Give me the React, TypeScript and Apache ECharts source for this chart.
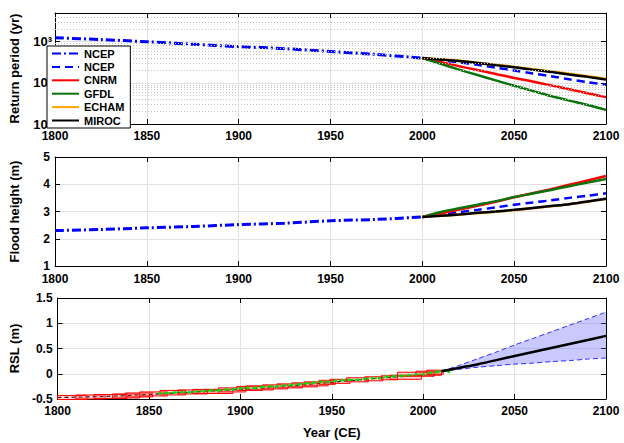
import { useEffect, useRef } from "react"
import * as echarts from "echarts"

const FONT = "'Liberation Sans', Arial, sans-serif"

// top & middle panels: historical NCEP reconstruction
const histYears = [1800, 1825, 1850, 1875, 1900, 1925, 1950, 1975, 2000]
const ncepHistReturn = [1250, 1130, 1000, 870, 760, 680, 580, 490, 400]
const ncepHistFlood = [2.3, 2.34, 2.4, 2.45, 2.52, 2.57, 2.66, 2.71, 2.8]

// future projections
const futYears = [2000, 2010, 2020, 2030, 2040, 2050, 2060, 2070, 2080, 2090, 2100]
const ncepReturn = [400, 355, 315, 275, 235, 200, 170, 145, 122, 104, 90]
const cnrmReturn = [400, 320, 255, 205, 165, 132, 108, 87, 70, 56, 45]
const gfdlReturn = [400, 290, 210, 155, 115, 85, 64, 48, 37, 29, 22]
const echamReturn = [400, 372, 343, 310, 276, 245, 216, 190, 166, 145, 126]
const mirocReturn = [400, 370, 340, 305, 270, 240, 210, 185, 160, 140, 120]

const ncepFlood = [2.8, 2.88, 2.97, 3.06, 3.15, 3.25, 3.33, 3.41, 3.5, 3.58, 3.67]
const cnrmFlood = [2.8, 2.93, 3.07, 3.21, 3.36, 3.52, 3.67, 3.82, 3.98, 4.14, 4.3]
const gfdlFlood = [2.8, 2.98, 3.12, 3.25, 3.38, 3.53, 3.66, 3.79, 3.93, 4.06, 4.19]
const echamFlood = [2.8, 2.84, 2.89, 2.94, 2.99, 3.05, 3.12, 3.19, 3.27, 3.36, 3.46]
const mirocFlood = [2.8, 2.84, 2.89, 2.95, 3.0, 3.06, 3.13, 3.2, 3.27, 3.37, 3.47]

// minor (dotted) grid lines of the log axis
const logMinorGrid = [20, 30, 40, 50, 60, 70, 80, 90, 200, 300, 400, 500, 600, 700, 800, 900, 2000, 3000, 4000]
const supDigits = ["\u2070", "\u00b9", "\u00b2", "\u00b3", "\u2074"]

// bottom panel: relative sea level
const reconYears = [1800, 1825, 1850, 1875, 1900, 1925, 1950, 1975, 2000, 2010]
const reconRsl = [-0.47, -0.45, -0.41, -0.36, -0.31, -0.25, -0.17, -0.09, -0.02, 0.05]

// proxy boxes: [start year, end year, low RSL, high RSL]
const proxyBoxes = [
  [1800, 1816, -0.51, -0.43],
  [1810, 1826, -0.5, -0.42],
  [1820, 1838, -0.49, -0.41],
  [1830, 1845, -0.48, -0.4],
  [1837, 1852, -0.46, -0.38],
  [1845, 1860, -0.44, -0.36],
  [1856, 1870, -0.42, -0.33],
  [1866, 1882, -0.4, -0.32],
  [1874, 1888, -0.39, -0.31],
  [1880, 1896, -0.39, -0.31],
  [1888, 1903, -0.36, -0.28],
  [1898, 1912, -0.33, -0.25],
  [1903, 1918, -0.32, -0.24],
  [1912, 1926, -0.3, -0.22],
  [1920, 1934, -0.28, -0.2],
  [1928, 1942, -0.26, -0.18],
  [1935, 1948, -0.24, -0.16],
  [1943, 1952, -0.21, -0.13],
  [1949, 1960, -0.19, -0.11],
  [1958, 1970, -0.16, -0.08],
  [1968, 1978, -0.14, -0.06],
  [1977, 1986, -0.12, -0.04],
  [1982, 1999, -0.11, -0.03],
  [1986, 2006, -0.05, 0.03],
  [1996, 2010, -0.03, 0.05],
  [2002, 2011, -0.01, 0.07],
]

// tide gauge record
const gaugeYears = [1856, 1860, 1864, 1868, 1872, 1876, 1880, 1884, 1888, 1892, 1896, 1900, 1904, 1908, 1912, 1916, 1920, 1924, 1928, 1932, 1936, 1940, 1944, 1948, 1952, 1956, 1960, 1964, 1968, 1972, 1976, 1980, 1984, 1988, 1992, 1996, 2000, 2004, 2008, 2012, 2014]
const gaugeRsl = [-0.39, -0.38, -0.37, -0.36, -0.37, -0.35, -0.34, -0.33, -0.33, -0.31, -0.31, -0.29, -0.28, -0.28, -0.26, -0.25, -0.25, -0.23, -0.22, -0.21, -0.19, -0.18, -0.16, -0.16, -0.14, -0.13, -0.12, -0.12, -0.1, -0.09, -0.09, -0.06, -0.05, -0.04, -0.03, -0.01, -0.01, 0.02, 0.04, 0.07, 0.04]

// projection with uncertainty band
const projYears = [2010, 2020, 2030, 2040, 2050, 2060, 2070, 2080, 2090, 2100]
const projMean = [0.05, 0.12, 0.19, 0.27, 0.35, 0.43, 0.51, 0.59, 0.67, 0.75]
const projUpper = [0.05, 0.17, 0.3, 0.43, 0.57, 0.7, 0.83, 0.96, 1.09, 1.22]
const projLower = [0.05, 0.09, 0.13, 0.16, 0.19, 0.21, 0.24, 0.26, 0.29, 0.31]

const BLUE = "#0000ff"
const RED = "#ff0000"
const GREEN = "#0b730b"
const ORANGE = "#ffa500"
const BLACK = "#000000"

const pairs = (xs: number[], ys: number[]) => xs.map((x, i) => [x, ys[i]])

const gridPos = [
  { left: 45, right: 18, top: 13, height: 111 },
  { left: 45, right: 18, top: 157, height: 109 },
  { left: 45, right: 18, top: 298, height: 101 },
]

const labelStyle = { color: "#000", fontFamily: FONT, fontWeight: "bold" as const, fontSize: 12 }
const nameStyle = { color: "#000", fontFamily: FONT, fontWeight: "bold" as const, fontSize: 13 }
const axisLine = { show: true, onZero: false, lineStyle: { color: "#000", width: 1 } }
const tick = { show: true, inside: true, length: 5, lineStyle: { color: "#000" } }
const gridLine = { show: true, lineStyle: { color: "#e2e2e2", width: 1 } }

export default function App() {
  const chartRef = useRef<HTMLDivElement>(null)

  useEffect(() => {
    if (!chartRef.current) return
    const chart = echarts.init(chartRef.current, null, { renderer: "svg" })

    const xAxes: any[] = []
    gridPos.forEach((_, g) => {
      xAxes.push({
        type: "value",
        gridIndex: g,
        min: 1800,
        max: 2100,
        interval: 50,
        axisLine,
        axisTick: tick,
        splitLine: gridLine,
        axisLabel: { ...labelStyle, margin: g === 1 ? 7 : 6, formatter: (v: number) => String(v) },
        ...(g === 2
          ? { name: "Year (CE)", nameLocation: "middle", nameGap: 27, nameTextStyle: nameStyle }
          : {}),
      })
    })
    gridPos.forEach((_, g) => {
      xAxes.push({
        type: "value",
        gridIndex: g,
        position: "top",
        min: 1800,
        max: 2100,
        interval: 50,
        axisLine,
        axisTick: tick,
        splitLine: { show: false },
        axisLabel: { show: false },
      })
    })

    const logLabel = (v: number) => {
      const e = Math.log10(v)
      if (Math.abs(e - Math.round(e)) > 0.01) return ""
      return "10" + supDigits[Math.round(e)]
    }

    const yDefs = [
      { type: "log", min: 10, max: 5000, logBase: 10, name: "Return period (yr)" },
      { type: "value", min: 1, max: 5, interval: 1, name: "Flood height (m)" },
      { type: "value", min: -0.5, max: 1.5, interval: 0.5, name: "RSL (m)" },
    ]
    const yAxes: any[] = []
    yDefs.forEach((d, g) => {
      yAxes.push({
        ...d,
        gridIndex: g,
        nameLocation: "middle",
        nameGap: 34,
        nameTextStyle: nameStyle,
        axisLine,
        axisTick: tick,
        splitLine: gridLine,
        axisLabel:
          g === 0
            ? { ...labelStyle, fontSize: 13, margin: 3, formatter: logLabel }
            : { ...labelStyle, margin: 5 },
      })
    })
    yDefs.forEach((d, g) => {
      yAxes.push({
        ...d,
        name: "",
        gridIndex: g,
        position: "right",
        axisLine,
        axisTick: tick,
        splitLine: { show: false },
        axisLabel: { show: false },
      })
    })

    const line = (
      name: string,
      g: number,
      xs: number[],
      ys: number[],
      color: string,
      width: number,
      type: any = "solid",
      z = 3
    ) => ({
      name,
      type: "line",
      xAxisIndex: g,
      yAxisIndex: g,
      data: pairs(xs, ys),
      smooth: 0.3,
      symbol: "none",
      z,
      lineStyle: { color, width, type },
      itemStyle: { color },
    })

    const dashDot = [9, 3, 2, 3]
    const dash = [8, 5]

    const series: any[] = [
      {
        type: "line",
        xAxisIndex: 0,
        yAxisIndex: 0,
        data: [],
        z: 1,
        markLine: {
          silent: true,
          symbol: "none",
          label: { show: false },
          lineStyle: { color: "#c4c4c4", type: [1, 2], width: 1 },
          data: logMinorGrid.map((v) => ({ yAxis: v })),
        },
      },
      line("NCEP", 0, histYears, ncepHistReturn, BLUE, 3, dashDot),
      line("NCEP ", 0, futYears, ncepReturn, BLUE, 2.5, dash),
      line("CNRM", 0, futYears, cnrmReturn, RED, 2.5),
      line("GFDL", 0, futYears, gfdlReturn, GREEN, 2.5),
      line("ECHAM", 0, futYears, echamReturn, ORANGE, 2.5),
      line("MIROC", 0, futYears, mirocReturn, BLACK, 2.5),

      line("NCEP", 1, histYears, ncepHistFlood, BLUE, 3, dashDot),
      line("NCEP ", 1, futYears, ncepFlood, BLUE, 2.5, dash),
      line("CNRM", 1, futYears, cnrmFlood, RED, 2.5),
      line("GFDL", 1, futYears, gfdlFlood, GREEN, 2.5),
      line("ECHAM", 1, futYears, echamFlood, ORANGE, 2.5),
      line("MIROC", 1, futYears, mirocFlood, BLACK, 2.5),

      {
        type: "custom",
        xAxisIndex: 2,
        yAxisIndex: 2,
        z: 1,
        data: [[projYears[0], projMean[0]]],
        renderItem: (_p: any, api: any) => {
          const up = projYears.map((y, i) => api.coord([y, projUpper[i]]))
          const low = projYears.map((y, i) => api.coord([y, projLower[i]])).reverse()
          return {
            type: "polygon",
            shape: { points: [...up, ...low] },
            style: { fill: "rgba(100,100,255,0.35)" },
          }
        },
      },
      line("upper", 2, projYears, projUpper, BLUE, 0.8, [5, 3], 2),
      line("lower", 2, projYears, projLower, BLUE, 0.8, [5, 3], 2),
      line("recon", 2, reconYears, reconRsl, BLACK, 1.2, [4, 3], 2),
      {
        type: "custom",
        xAxisIndex: 2,
        yAxisIndex: 2,
        z: 3,
        data: proxyBoxes,
        encode: { x: [0, 1], y: [2, 3] },
        renderItem: (_p: any, api: any) => {
          const a = api.coord([api.value(0), api.value(3)])
          const b = api.coord([api.value(1), api.value(2)])
          return {
            type: "rect",
            shape: { x: a[0], y: a[1], width: b[0] - a[0], height: b[1] - a[1] },
            style: { fill: "rgba(255,80,80,0.25)", stroke: RED, lineWidth: 1 },
          }
        },
      },
      {
        name: "gauge",
        type: "line",
        xAxisIndex: 2,
        yAxisIndex: 2,
        data: pairs(gaugeYears, gaugeRsl),
        symbol: "circle",
        symbolSize: 3,
        z: 4,
        lineStyle: { color: "#00e000", width: 1.5, type: [2, 2] },
        itemStyle: { color: "#00e000" },
      },
      line("mean", 2, projYears, projMean, BLACK, 2.5, "solid", 5),
    ]

    chart.setOption({
      animation: false,
      grid: gridPos,
      legend: {
        data: ["NCEP", "NCEP ", "CNRM", "GFDL", "ECHAM", "MIROC"],
        orient: "vertical",
        left: 47,
        top: 46,
        itemWidth: 27,
        itemHeight: 10,
        itemGap: 2.4,
        padding: [2, 6, 2, 4],
        backgroundColor: "#fff",
        borderColor: "#000",
        borderWidth: 1,
        borderRadius: 0,
        itemStyle: { opacity: 0 },
        formatter: (n: string) => n.trim(),
        textStyle: { color: "#000", fontFamily: FONT, fontWeight: "bold", fontSize: 11 },
        selectedMode: false,
        z: 10,
      },
      xAxis: xAxes,
      yAxis: yAxes,
      series,
    })

    return () => chart.dispose()
  }, [])

  return (
    <div
      ref={chartRef}
      style={{ position: "fixed", left: 0, top: 0, width: 624, height: 443, background: "#fff" }}
    />
  )
}
